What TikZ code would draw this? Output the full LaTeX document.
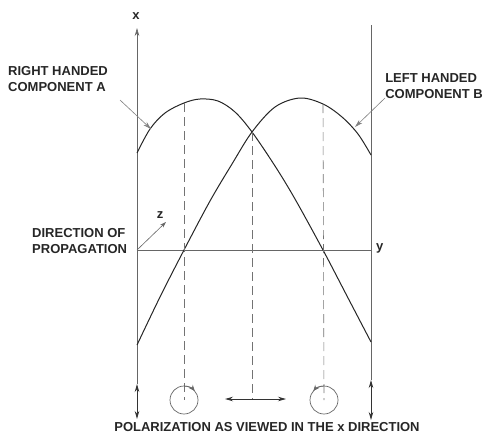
\documentclass[tikz,border=0pt]{standalone}
\usepackage{fontspec}
\setmainfont{Liberation Sans}
\usetikzlibrary{arrows.meta}

\begin{document}
\begin{tikzpicture}[x=1pt,y=-1pt,
  >={Stealth[length=8pt,width=4.5pt]},
  font=\fontsize{13}{16}\selectfont\bfseries,
  axis/.style={draw=black!60,line width=0.6pt},
  wave/.style={draw=black!85,line width=1pt},
  proj/.style={draw=black!55,line width=0.6pt,dash pattern=on 9pt off 5pt},
  pol/.style={draw=black!80,line width=0.8pt},
  ring/.style={draw=black!60,line width=0.7pt},
  lbl/.style={text=black!85,align=left,inner sep=0pt},
  ptr/.style={->,draw=black!50,line width=0.6pt},
]
  \useasboundingbox (0,0) rectangle (484,442);

  % axes
  \coordinate (O) at (137,250);
  \coordinate (xtop) at (137,28);
  \coordinate (yend) at (371,250);
  \coordinate (ztip) at (166,222);
  \coordinate (rtop) at (371,25);
  \draw[axis,->] (137,384) -- (xtop);
  \draw[axis] (rtop) -- (371,380);
  \draw[axis] (O) -- (yend);
  \draw[axis,->,>={Stealth[length=6pt,width=4pt]}] (O) -- (ztip);
  \node[lbl] (xlab) at (136,16) {x};
  \node[lbl,anchor=west] (ylab) at (376,248) {y};
  \node[lbl] (zlab) at (160,215) {z};

  % components A and B
  \draw[wave] plot[smooth,tension=0.55] coordinates {(137,153) (150,129)
    (165,113) (184,103) (200,99) (218,101) (235,112) (252,132) (275,166)
    (295,199) (323,250) (347,296) (371,342)};
  \draw[wave] plot[smooth,tension=0.55] coordinates {(137,345) (160,297)
    (184,250) (210,201) (232,164) (252,132) (275,107) (300,98) (323,104)
    (342,117) (358,134) (371,155)};

  % projections down to the polarization
  \coordinate (cA) at (184,400);
  \coordinate (cM) at (255,399);
  \coordinate (cB) at (324,400);
  \draw[proj] (184,103) -- (cA);
  \draw[proj] (252,132) -- (252,399);
  \draw[proj] (323,104) -- (cB);

  % polarization as viewed
  \draw[pol,<->] (137,384) -- (137,419);
  \draw[pol,<->] (371,380) -- (371,420);
  \draw[pol,<->] (225,399) -- (286,399);
  \draw[ring] (cA) circle[radius=14];
  \draw[ring] (cB) circle[radius=14];
  \draw[ring,->,>={Stealth[length=6pt,width=5pt]}] (cA) ++(-90:14)
    arc[start angle=-90,end angle=-40,radius=14];
  \draw[ring,->,>={Stealth[length=6pt,width=5pt]}] (cB) ++(-90:14)
    arc[start angle=-90,end angle=-140,radius=14];

  % labels
  \node[lbl,anchor=north west] (labA) at (8,66) {RIGHT HANDED\\COMPONENT A};
  \node[lbl,anchor=north east] (labB) at (483,73) {LEFT HANDED\\COMPONENT B};
  \node[lbl,anchor=north west] (labP) at (32,228) {DIRECTION OF\\PROPAGATION};
  \node[lbl] (cap) at (267,427) {POLARIZATION AS VIEWED IN THE x DIRECTION};
  \coordinate (fromA) at (120,100);
  \coordinate (tipA) at (151,129);
  \coordinate (fromB) at (385,98);
  \coordinate (tipB) at (355,127);
  \draw[ptr] (fromA) -- (tipA);
  \draw[ptr] (fromB) -- (tipB);
\end{tikzpicture}
\end{document}
